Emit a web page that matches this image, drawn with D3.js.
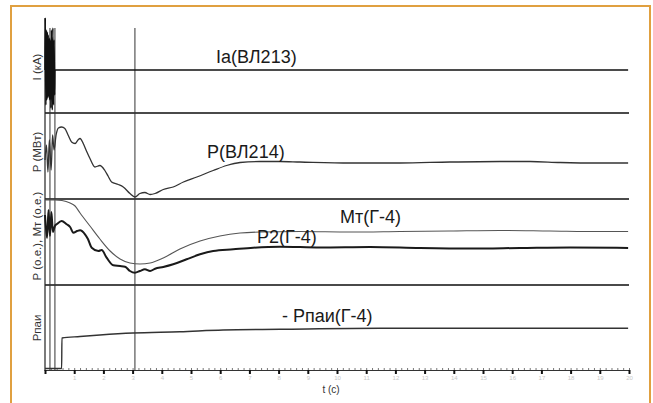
<!DOCTYPE html>
<html>
<head>
<meta charset="utf-8">
<script src="https://cdn.jsdelivr.net/npm/d3@7"></script>
<style>
  body { margin: 0; background: #fff; }
  svg { display: block; font-family: "Liberation Sans", Arial, sans-serif; }
</style>
</head>
<body>
<svg id="chart"></svg>
<script>
"use strict";

// ---- data (time in axis units, values per panel) ----
const iaTime = [0, 0.01, 0.03, 0.045, 0.06, 0.08, 0.10, 0.11, 0.13, 0.15, 0.16, 0.18, 0.20, 0.22, 0.25, 0.27, 0.29, 0.31, 0.33, 0.34, 19.97];
const iaValue = [0, 5.2, -3.5, 4.0, -3.0, 3.8, -2.8, 3.5, -2.6, 3.2, -3.0, 3.0, -3.8, 4.0, -4.0, 4.2, -3.5, 3.0, -2.5, 0, 0];

const pTime = [0, 0.05, 0.10, 0.15, 0.21, 0.26, 0.31, 0.38, 0.46, 0.57, 0.68, 0.79, 0.91, 1.03, 1.13, 1.20, 1.31, 1.42, 1.54, 1.71, 1.88, 2.05, 2.16, 2.28, 2.51, 2.68, 2.91, 3.08, 3.25, 3.42, 3.60, 3.77, 4.05, 4.39, 4.74, 5.20, 5.76, 6.22, 6.68, 7.36, 8.05, 8.73, 10.45, 12.16, 13.87, 15.58, 16.61, 17.64, 19.01, 19.97];
const pValue = [78, 108, 54, 118, 58, 128, 98, 128, 142, 144, 141, 128, 114, 111, 118, 121, 111, 96, 81, 64, 67, 57, 46, 34, 29, 24, 11, 4, 11, 13, 9, 11, 19, 24, 34, 44, 57, 67, 73, 75, 75, 74, 72, 72, 74, 75, 75, 73, 72, 72];

const mtTime = [0, 0.34, 0.58, 0.86, 1.03, 1.20, 1.54, 1.88, 2.23, 2.57, 2.91, 3.25, 3.60, 4.05, 4.62, 5.31, 5.99, 6.68, 7.36, 8.73, 10.45, 12.16, 13.87, 15.58, 17.29, 19.01, 19.97];
const mtValue = [0.99, 0.99, 0.985, 0.96, 0.93, 0.86, 0.73, 0.60, 0.48, 0.40, 0.36, 0.35, 0.36, 0.41, 0.50, 0.58, 0.63, 0.66, 0.67, 0.675, 0.67, 0.675, 0.68, 0.685, 0.68, 0.675, 0.675];

const p2Time = [0, 0.07, 0.12, 0.17, 0.22, 0.27, 0.34, 0.41, 0.57, 0.74, 0.86, 0.97, 1.10, 1.20, 1.37, 1.47, 1.60, 1.83, 1.94, 2.11, 2.34, 2.57, 2.74, 2.91, 3.08, 3.25, 3.42, 3.60, 3.77, 4.05, 4.39, 4.85, 5.31, 5.76, 6.45, 7.13, 8.05, 9.42, 11.13, 12.84, 14.55, 16.27, 17.98, 19.97];
const p2Value = [0.84, 0.61, 0.89, 0.63, 0.87, 0.67, 0.73, 0.75, 0.78, 0.747, 0.72, 0.663, 0.68, 0.687, 0.647, 0.60, 0.513, 0.48, 0.49, 0.413, 0.337, 0.33, 0.323, 0.28, 0.263, 0.28, 0.297, 0.28, 0.303, 0.32, 0.347, 0.397, 0.447, 0.48, 0.497, 0.513, 0.523, 0.515, 0.52, 0.51, 0.505, 0.51, 0.515, 0.51];

const ppaiTime = [0, 0.57, 0.58, 1.20, 1.88, 3.01, 4.62, 6.10, 8.05, 11.47, 19.97];
const ppaiValue = [0.025, 0.025, 0.33, 0.345, 0.36, 0.38, 0.393, 0.41, 0.417, 0.427, 0.427];

const markerTimes = [0.17, 0.34, 3.08];
const tickValues = d3.range(0, 21, 1);

const W = 653, H = 403;
const svg = d3.select("#chart").attr("width", W).attr("height", H);
svg.append("rect").attr("width", W).attr("height", H).attr("fill", "#fff");

// orange frame (bottom edge runs off the picture)
svg.append("rect")
  .attr("x", 11).attr("y", 6).attr("width", 639).attr("height", 430)
  .attr("fill", "none").attr("stroke", "#e0a040").attr("stroke-width", 2);

// ---- scales ----
const x = d3.scaleLinear().domain([0, 20]).range([45, 629]);
const yIa = d3.scaleLinear().domain([-4.3, 4.3]).range([113, 27]);
const yP = d3.scaleLinear().domain([0, 172]).range([199, 113]);
const yPu = d3.scaleLinear().domain([0.14, 1.0]).range([285, 199]);
const yPpai = d3.scaleLinear().domain([0, 0.86]).range([371, 285]);

// panel separators
[113, 199, 285].forEach(y => {
  svg.append("line")
    .attr("x1", 45).attr("x2", 629).attr("y1", y).attr("y2", y)
    .attr("stroke", "#4a4a4a").attr("stroke-width", 2);
});

// y axis line and marker verticals
svg.append("line")
  .attr("x1", x(0)).attr("x2", x(0)).attr("y1", 18).attr("y2", 371)
  .attr("stroke", "#222").attr("stroke-width", 1.2);
markerTimes.forEach(t => {
  svg.append("line")
    .attr("x1", x(t)).attr("x2", x(t)).attr("y1", 28).attr("y2", 371)
    .attr("stroke", "#333").attr("stroke-width", 1);
});

// ---- bottom time axis ----
const minor = d3.axisBottom(x).tickValues(d3.range(0, 20.01, 0.2)).tickSize(-2).tickFormat("");
const gMinor = svg.append("g").attr("transform", "translate(0,370)").call(minor);
gMinor.select(".domain").attr("stroke", "#333");
gMinor.selectAll(".tick line").attr("stroke", "#777");

const major = d3.axisBottom(x).tickValues(tickValues).tickSize(4).tickPadding(2)
  .tickFormat(d => d === 0 ? "" : d);
const gMajor = svg.append("g").attr("transform", "translate(0,370)").call(major);
gMajor.select(".domain").remove();
gMajor.selectAll(".tick line").attr("stroke", "#111").attr("stroke-width", 2);
gMajor.selectAll(".tick text").attr("fill", "#c8c8c8").style("font-size", "6px");

svg.append("text")
  .attr("x", 331).attr("y", 393)
  .attr("text-anchor", "middle")
  .style("font-size", "10px").attr("fill", "#333")
  .text("t (c)");

// ---- series ----
function drawSeries(times, values, yScale, color, width) {
  const pts = times.map((t, i) => [t, values[i]]);
  svg.append("path")
    .datum(pts)
    .attr("fill", "none")
    .attr("stroke", color)
    .attr("stroke-width", width)
    .attr("stroke-linejoin", "round")
    .attr("d", d3.line().x(d => x(d[0])).y(d => yScale(d[1])).curve(d3.curveMonotoneX));
}

drawSeries(iaTime, iaValue, yIa, "#111", 1.5);
drawSeries(pTime, pValue, yP, "#333", 1.3);
drawSeries(mtTime, mtValue, yPu, "#555", 1.1);
drawSeries(p2Time, p2Value, yPu, "#1a1a1a", 2);
drawSeries(ppaiTime, ppaiValue, yPpai, "#333", 1.4);

// ---- y axis titles (rotated) ----
const yTitles = [
  { text: "I (кА)", y: 67 },
  { text: "P (МВт)", y: 152 },
  { text: "P (o.e.), Мт (o.e.)", y: 236 },
  { text: "Рпаи", y: 328 }
];
yTitles.forEach(d => {
  svg.append("text")
    .attr("transform", `translate(41,${d.y}) rotate(-90)`)
    .attr("text-anchor", "middle")
    .style("font-size", "11.5px").attr("fill", "#333")
    .text(d.text);
});

// ---- series labels ----
const seriesLabels = [
  { text: "Ia(ВЛ213)", x: 216, y: 63 },
  { text: "Р(ВЛ214)", x: 207, y: 158 },
  { text: "Мт(Г-4)", x: 340, y: 223 },
  { text: "Р2(Г-4)", x: 257, y: 243 },
  { text: "- Рпаи(Г-4)", x: 282, y: 322 }
];
seriesLabels.forEach(d => {
  svg.append("text")
    .attr("x", d.x).attr("y", d.y)
    .style("font-size", "18px").attr("fill", "#1a1a1a")
    .text(d.text);
});
</script>
</body>
</html>
